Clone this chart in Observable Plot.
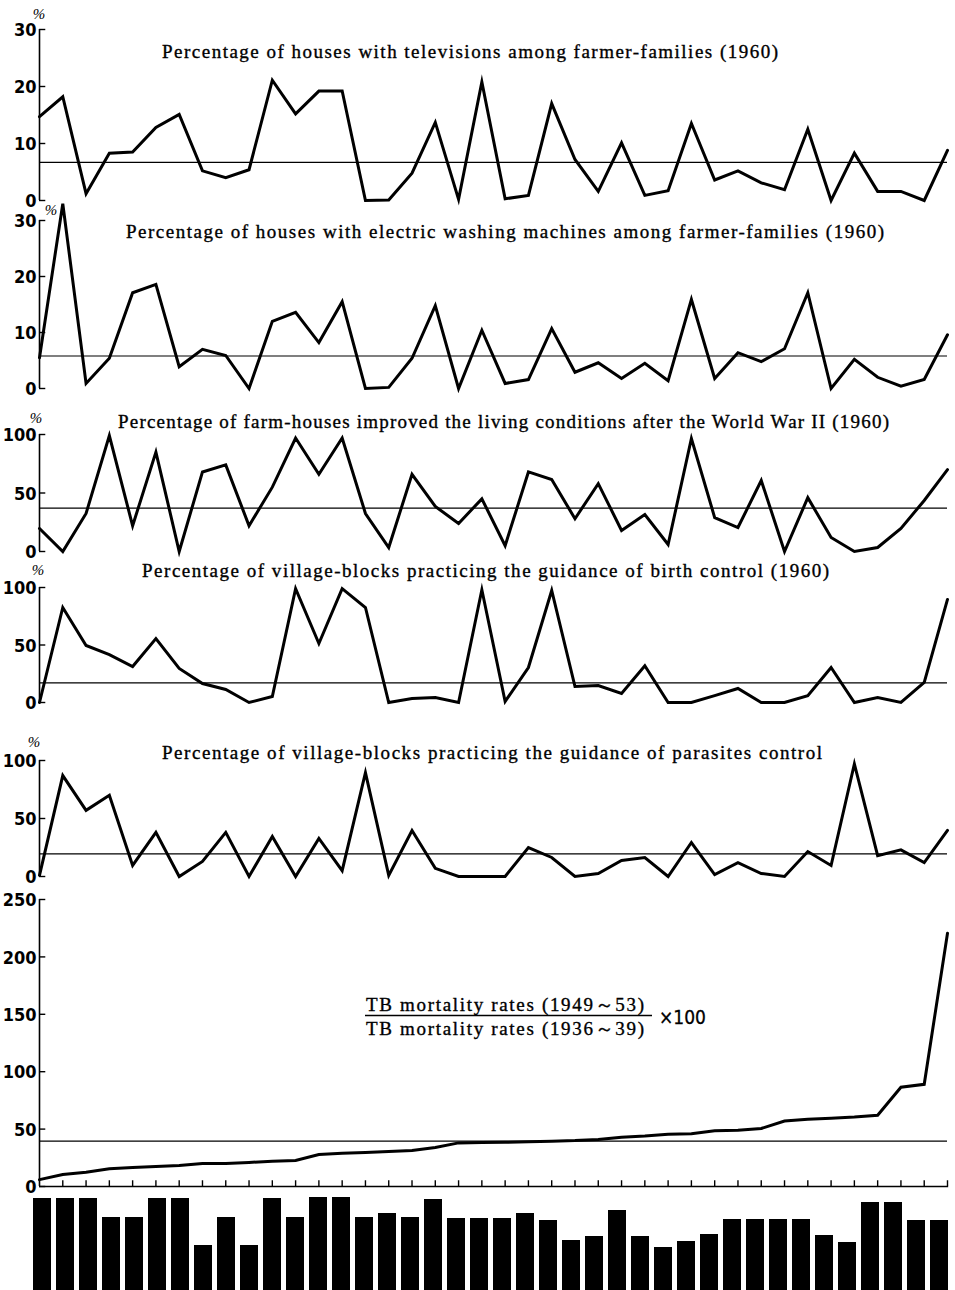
<!DOCTYPE html>
<html><head><meta charset="utf-8">
<script src="https://cdn.jsdelivr.net/npm/d3@7"></script>
<script src="https://cdn.jsdelivr.net/npm/@observablehq/plot@0.6"></script>
<style>
body{margin:0;background:#fff;}
#wrap{position:relative;width:955px;height:1290px;overflow:hidden;background:#fff;}
#wrap svg{position:absolute;left:0;top:0;}
</style></head><body><div id="wrap"></div><script>
// ---- data (40 areas, ordered by TB ratio) ----
const areas = d3.range(40);
const tvShare = [14.7,18.2,1.2,8.3,8.5,12.8,15.1,5.2,4.0,5.4,21.1,15.2,19.2,19.2,0,0.1,4.8,13.7,0.2,20.8,0.3,0.9,17.0,7.2,1.6,10.1,0.9,1.7,13.5,3.6,5.2,3.1,1.9,12.5,0,8.3,1.6,1.6,0,8.8];
const tvMean = 6.7;
const washShare = [5.5,33,0.9,5.4,17.1,18.6,3.9,7.0,5.9,0,12.0,13.6,8.2,15.5,0,0.2,5.4,14.8,0,10.4,0.9,1.6,10.7,2.9,4.6,1.8,4.5,1.4,15.9,1.8,6.4,4.8,7.1,17.1,0,5.2,2.0,0.4,1.6,9.6];
const washMean = 5.8;
const livingShare = [19.7,0,32.5,99,22,85,0,68,74,22,55,97,66,97,32.5,3.4,66,38.5,24,45,5,68,61.5,28,58,18,31.6,6,96.6,29,20.5,60.7,0,46,12,0,3.4,19.7,43.6,70];
const livingMean = 37;
const birthShare = [0,82.6,49.6,41.7,31.3,55.6,29.6,16.5,11.3,0,5.2,99,51.3,99,82.6,0,3.5,4.3,0,98,0.9,30.4,97.4,13.9,14.8,7.8,32,0,0,6,12.2,0,0,6,30.4,0,4.3,0,17.4,89.6];
const birthMean = 17;
const parasiteShare = [1,87,57,70,9.5,38,0,13,38,0,34.5,0,32.8,5,89.6,0.9,39.7,7,0,0,0,25,16.4,0,2.6,13.8,16.4,0,29.3,1.7,12,2.6,0,21.5,9.5,97,18,23,12,39.7];
const parasiteMean = 19.5;
const tbRatio = [6,10.5,12.5,15.5,16.5,17.4,18.3,20,20,21,22,22.6,27.9,29,29.6,30.5,31.4,34,38,38.3,38.5,39,39.5,40,41,43,44,45.5,46,48.5,49,50.5,57,58.5,59.5,60.5,62,86.5,89,220.6];
const tbMean = 39.5;
const barLevel = [92,92,92,73,73,92,92,45,73,45,92,73,93,93,73,77,73,91,72,72,72,77,70,50,54,80,54,43,49,56,71,71,71,71,55,48,88,88,70,70];
const pctTicks = [0,10,20,30];
const hundredTicks = [0,50,100];
const tbTicks = [0,50,100,150,200,250];
const titles = [
  "Percentage of houses with televisions among farmer-families (1960)",
  "Percentage of houses with electric washing machines among farmer-families (1960)",
  "Percentage of farm-houses improved the living conditions after the World War II (1960)",
  "Percentage of village-blocks practicing the guidance of birth control (1960)",
  "Percentage of village-blocks practicing the guidance of parasites control"
];
const tbNumerator = "TB mortality rates (1949\uFF5E53)";
const tbDenominator = "TB mortality rates (1936\uFF5E39)";
const tbFactor = "\u00D7100";

// ---- layout ----
const W = 955, H = 1290;
const wrap = document.getElementById("wrap");
const numFont = "'Liberation Sans Narrow','DejaVu Sans Condensed','Roboto Condensed',sans-serif";
const serif = "'Liberation Serif','DejaVu Serif',serif";

function panel(values, mean, ymax, ticks, top, zero, xAxis) {
  const data = values.map((v, i) => ({i, v}));
  const marks = [
    Plot.ruleX([0], {y1: 0, y2: ymax, strokeWidth: 1.6}),
    Plot.ruleY(ticks, {y: d => d, x1: 0, x2: 0.27, strokeWidth: 1.4}),
    Plot.text(ticks, {x: 0, y: d => d, text: d => String(d), textAnchor: "end", dx: -3, dy: 1,
      fontSize: 18, fontWeight: "bold", fontFamily: numFont}),
    Plot.ruleY([mean], {y: d => d, x1: 0, x2: 39, strokeWidth: 1.2}),
    Plot.line(data, {x: "i", y: "v", strokeWidth: 3, strokeLinejoin: "miter", strokeMiterlimit: 6})
  ];
  if (xAxis) {
    marks.push(Plot.ruleY([0], {y: d => d, x1: 0, x2: 39.05, strokeWidth: 1.6}));
    marks.push(Plot.ruleX(areas.slice(1), {x: d => d, y1: 0, y2: 5, strokeWidth: 1.4}));
  }
  return Plot.plot({
    width: W, height: H,
    marginLeft: 39, marginRight: 8, marginTop: top, marginBottom: H - zero,
    x: {domain: [0, 39], axis: null},
    y: {domain: [0, ymax], axis: null},
    style: {background: "none", overflow: "visible"},
    marks
  });
}

const panels = [
  [tvShare, tvMean, 30, pctTicks, 29, 200],
  [washShare, washMean, 30, pctTicks, 220, 388],
  [livingShare, livingMean, 100, hundredTicks, 434, 551],
  [birthShare, birthMean, 100, hundredTicks, 587, 702],
  [parasiteShare, parasiteMean, 100, hundredTicks, 760, 876],
  [tbRatio, tbMean, 250, tbTicks, 899, 1186, true]
];
for (const p of panels) wrap.appendChild(panel(...p));

// bars
wrap.appendChild(Plot.plot({
  width: W, height: H,
  marginLeft: 25, marginRight: 0, marginTop: 1190, marginBottom: 0,
  x: {type: "band", domain: areas, paddingInner: 0.22, paddingOuter: 0.11, axis: null},
  y: {domain: [0, 100], axis: null},
  style: {background: "none", overflow: "visible"},
  marks: [Plot.barY(areas.map(i => ({i, v: barLevel[i]})), {x: "i", y: "v", fill: "black"})]
}));

// ---- text overlay ----
const svg = d3.create("svg").attr("width", W).attr("height", H);
function fitText(str, x1, x2, y, size) {
  svg.append("text").attr("x", x1).attr("y", y)
    .attr("textLength", x2 - x1).attr("lengthAdjust", "spacing")
    .attr("font-family", serif).attr("font-size", size).attr("fill", "black")
    .attr("stroke", "black").attr("stroke-width", 0.35).text(str);
}
const titlePos = [[162, 778, 58], [126, 884, 238], [118, 889, 428], [142, 829, 577], [162, 822, 759]];
titles.forEach((t, k) => fitText(t, ...titlePos[k], 19));
fitText(tbNumerator, 366, 644, 1011, 19);
fitText(tbDenominator, 366, 644, 1035, 19);
svg.append("line").attr("x1", 365).attr("x2", 652).attr("y1", 1015.5).attr("y2", 1015.5).attr("stroke", "black").attr("stroke-width", 1.3);
svg.append("text").attr("x", 659).attr("y", 1024).attr("font-family", numFont).attr("font-size", 19)
  .attr("stroke", "black").attr("stroke-width", 0.3).text(tbFactor);
const pctPos = [[39, 19], [51, 215], [36, 423], [38, 575], [34, 747]];
for (const [x, y] of pctPos) {
  svg.append("text").attr("x", x).attr("y", y).attr("text-anchor", "middle")
    .attr("font-family", serif).attr("font-style", "italic").attr("font-size", 15).text("%");
}
wrap.appendChild(svg.node());
</script></body></html>
